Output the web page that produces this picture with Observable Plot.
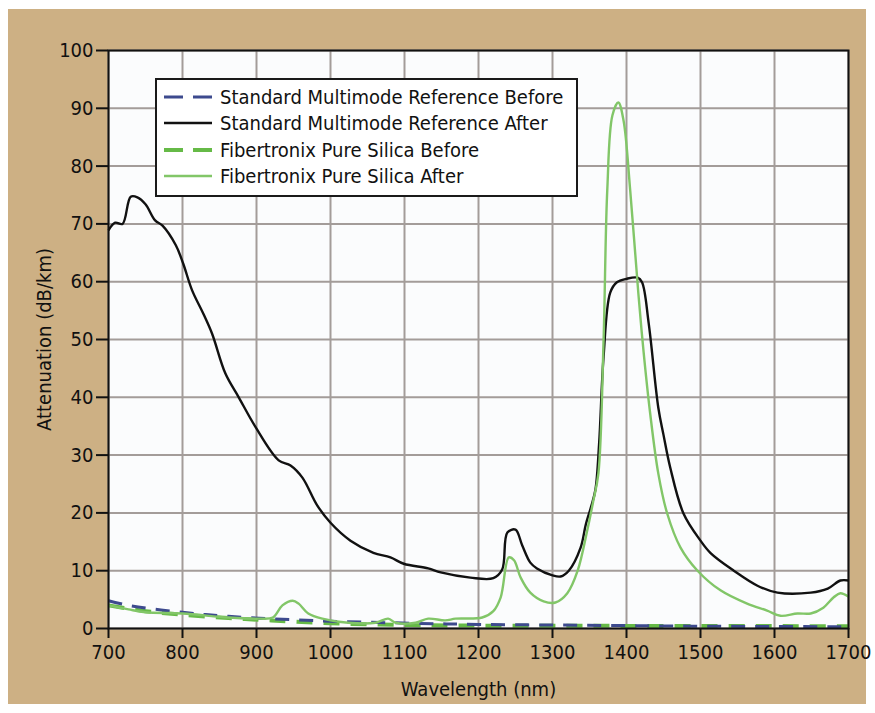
<!DOCTYPE html>
<html><head><meta charset="utf-8">
<script src="https://cdn.jsdelivr.net/npm/d3@7"></script>
<script src="https://cdn.jsdelivr.net/npm/@observablehq/plot@0.6"></script>
<style>
body{margin:0;background:#fff;}
#wrap{position:relative;width:875px;height:713px;overflow:hidden;}
#bg{position:absolute;left:8px;top:9px;width:858px;height:695px;background:#cdb084;}
#chart{position:absolute;left:0;top:0;}
#legend{position:absolute;left:155px;top:78px;}
</style></head>
<body>
<div id="wrap"><div id="bg"></div><div id="chart"></div><div id="legend"></div></div>
<script>
// Wavelength ticks
const xTicks = [700,800,900,1000,1100,1200,1300,1400,1500,1600,1700];
const yTicks = [0,10,20,30,40,50,60,70,80,90,100];

const seriesNames = [
  "Standard Multimode Reference Before",
  "Standard Multimode Reference After",
  "Fibertronix Pure Silica Before",
  "Fibertronix Pure Silica After"
];

// Standard Multimode Reference Before
const stdBeforeWl  = [700,727,800,862,935,1016,1115,1200,1300,1400,1500,1600,1700];
const stdBeforeVal = [4.8,4.0,2.8,2.1,1.6,1.2,0.9,0.7,0.6,0.5,0.4,0.35,0.3];

// Standard Multimode Reference After
const stdAfterWl  = [700,709,719,730,739,750,763,773,791,801,813,828,840,858,876,899,930,946,962,982,1000,1027,1058,1081,1099,1132,1149,1189,1220,1232,1239,1250,1259,1270,1279,1300,1311,1322,1338,1345,1352,1358,1363,1369,1378,1387,1400,1415,1421,1430,1443,1450,1459,1477,1500,1514,1545,1577,1604,1649,1672,1689,1700];
const stdAfterVal = [68.9,70.2,70.0,74.7,74.6,73.4,70.6,69.7,66.3,63.1,58.5,54.5,51.0,44.1,40.0,34.8,29.1,28.2,26.1,21.3,18.3,15.2,13.1,12.3,11.2,10.4,9.7,8.8,8.7,10.2,16.6,17.1,14.4,11.4,10.4,9.2,9.0,10.0,14.0,18.0,21.0,24.0,32.0,47.0,58.1,59.9,60.5,60.7,59.9,52.8,38.2,33.5,27.9,19.9,15.2,13.0,10.0,7.4,6.2,6.2,6.9,8.3,8.3];

// Fibertronix Pure Silica Before
const fibBeforeWl  = [700,750,800,862,920,1000,1100,1200,1400,1700];
const fibBeforeVal = [4.0,3.0,2.4,1.8,1.4,0.9,0.6,0.5,0.45,0.4];

// Fibertronix Pure Silica After
const fibAfterWl  = [700,727,750,800,862,903,922,935,949,957,970,989,1024,1061,1078,1088,1115,1132,1155,1169,1205,1220,1230,1241,1248,1257,1270,1288,1304,1320,1334,1347,1355,1362,1369,1374,1381,1389,1396,1405,1416,1423,1432,1443,1455,1473,1496,1527,1563,1590,1608,1631,1649,1666,1680,1689,1700];
const fibAfterVal = [4.0,3.3,2.8,2.6,1.9,1.7,1.9,4.0,4.8,4.3,2.6,1.7,1.0,1.0,1.7,1.0,1.0,1.7,1.4,1.7,1.9,3.0,5.4,12.3,11.8,8.8,6.2,4.7,4.5,6.1,10.0,17.0,22.0,26.8,49.8,75.8,88.8,91.0,87.9,75.8,58.0,48.0,37.2,26.8,19.9,14.0,10.0,6.6,4.3,3.1,2.2,2.6,2.6,3.6,5.4,6.1,5.5];

const styles = [
  {stroke:"#3d4a8e", width:3, dash:"14,10"},
  {stroke:"#111111", width:2.4, dash:null},
  {stroke:"#66ba47", width:4, dash:"16,11"},
  {stroke:"#82c668", width:2.4, dash:null}
];

const toRows = (wl, v) => wl.map((w,i)=>({wl:w, val:v[i]}));
const sets = [toRows(stdBeforeWl,stdBeforeVal), toRows(stdAfterWl,stdAfterVal), toRows(fibBeforeWl,fibBeforeVal), toRows(fibAfterWl,fibAfterVal)];

const lineMark = (i) => Plot.line(sets[i], {x:"wl", y:"val", stroke:styles[i].stroke, strokeWidth:styles[i].width, strokeDasharray:styles[i].dash, strokeLinejoin:"round", strokeLinecap:"butt", curve:"catmull-rom"});

const font = "'DejaVu Sans Condensed', 'DejaVu Sans', sans-serif";
const chart = Plot.plot({
  width:875, height:713,
  marginLeft:108, marginRight:27, marginTop:50, marginBottom:85,
  style:{background:"transparent", fontFamily:font, fontSize:"20px", color:"#111"},
  x:{domain:[700,1700]},
  y:{domain:[0,100]},
  marks:[
    Plot.frame({fill:"#fbfcfd", stroke:null}),
    Plot.gridX(xTicks, {stroke:"#a39c99", strokeOpacity:1, strokeWidth:2}),
    Plot.gridY(yTicks, {stroke:"#a39c99", strokeOpacity:1, strokeWidth:2}),
    lineMark(2), lineMark(0), lineMark(1), lineMark(3),
    Plot.frame({stroke:"#111", strokeWidth:2}),
    Plot.axisX(xTicks, {tickSize:10, tickPadding:6, tickFormat:d=>String(d), strokeWidth:2, label:"Wavelength (nm)", labelAnchor:"center", labelOffset:67, labelArrow:"none", fontSize:20}),
    Plot.axisY(yTicks, {tickSize:12, tickPadding:3, tickFormat:d=>String(d), strokeWidth:2, label:"Attenuation (dB/km)", labelAnchor:"center", labelOffset:72, labelArrow:"none", fontSize:20})
  ]
});
document.getElementById("chart").appendChild(chart);

// Legend
const lw = 423, lh = 119;
const leg = d3.select("#legend").append("svg").attr("width", lw).attr("height", lh);
leg.append("rect").attr("x",1).attr("y",1).attr("width",lw-2).attr("height",lh-2).attr("fill","#fff").attr("stroke","#1a1a1a").attr("stroke-width",2);
const rowY = [19, 45, 72, 98];
seriesNames.forEach((name,i)=>{
  const g = leg.append("g");
  g.append("line").attr("x1",9).attr("x2",57).attr("y1",rowY[i]).attr("y2",rowY[i])
    .attr("stroke",styles[i].stroke).attr("stroke-width",styles[i].width)
    .attr("stroke-dasharray", (i===0 || i===2) ? "19,10" : null);
  g.append("text").attr("x",65).attr("y",rowY[i]).attr("dy","0.35em")
    .attr("font-family",font).attr("font-size",20).attr("fill","#111").text(name);
});
</script>
</body></html>
